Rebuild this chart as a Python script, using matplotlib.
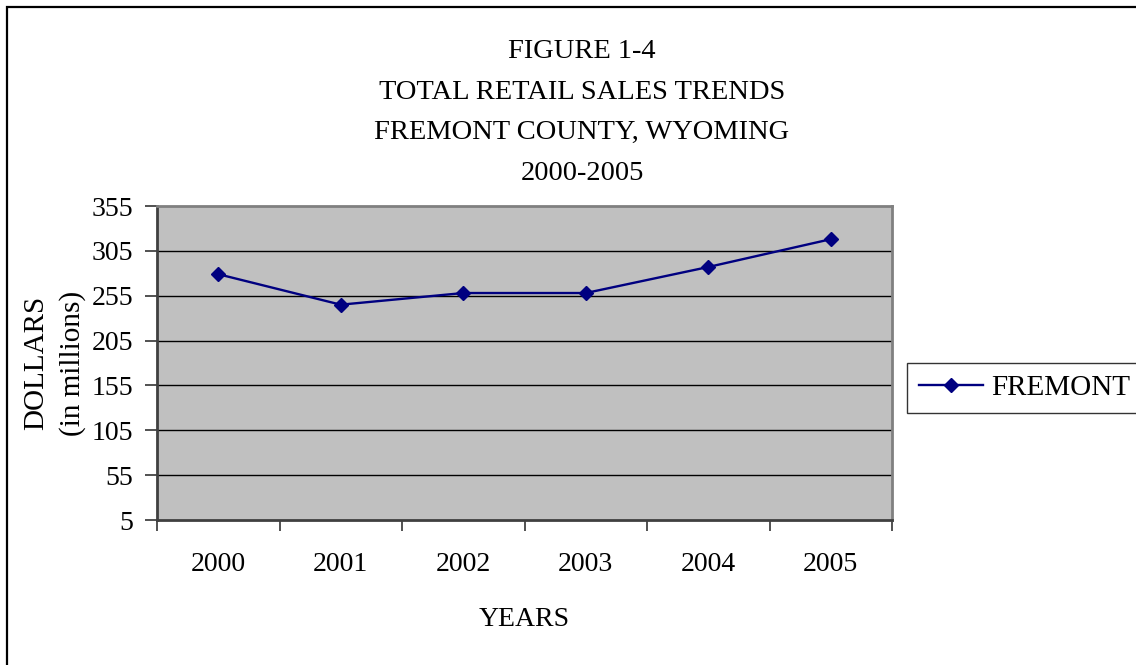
import matplotlib.pyplot as plt
from matplotlib.patches import Rectangle

# values
years = ['2000', '2001', '2002', '2003', '2004', '2005']
fremont = [279, 245, 258, 258, 287, 318]
yticks = [5, 55, 105, 155, 205, 255, 305, 355]
title_lines = ['FIGURE 1-4', 'TOTAL RETAIL SALES TRENDS',
               'FREMONT COUNTY, WYOMING', '2000-2005']

W, H = 1136, 665
plt.rcParams['font.family'] = ['Liberation Serif', 'DejaVu Serif']

fig = plt.figure(figsize=(W / 100, H / 100), dpi=100)
ax = fig.add_axes([157 / W, 1 - 520 / H, (892 - 157) / W, (520 - 206) / H])
ax.set_facecolor('#C0C0C0')

x = list(range(len(years)))
ax.plot(x, fremont, color='#000080', lw=1.7, marker='D', ms=7.6,
        label='FREMONT', zorder=3)

ax.set_xlim(-0.5, len(years) - 0.5)
ax.set_ylim(yticks[0], yticks[-1])
ax.set_yticks(yticks)
ax.set_yticklabels([str(v) for v in yticks], fontsize=20)
ax.set_xticks([i - 0.5 for i in range(len(years) + 1)])
ax.set_xticklabels([])
ax.set_xticks(x, minor=True)
ax.set_xticklabels(years, minor=True, fontsize=20)
ax.tick_params(axis='x', which='minor', length=0, pad=23)
ax.tick_params(axis='x', which='major', length=8, width=1.2, color='#333333', direction='out')
ax.tick_params(axis='y', length=9, width=1.2, color='#333333', direction='out', pad=8)

for v in yticks[1:-1]:
    ax.axhline(v, color='black', lw=1.0, zorder=1)

for s in ['top', 'right']:
    ax.spines[s].set_color('#808080')
    ax.spines[s].set_linewidth(2)
for s in ['left', 'bottom']:
    ax.spines[s].set_color('#404040')
    ax.spines[s].set_linewidth(2)

ax.set_xlabel('YEARS', fontsize=20, labelpad=22)
ax.set_ylabel('DOLLARS\n(in millions)', fontsize=21, labelpad=4, linespacing=1.5)

for i, t in enumerate(title_lines):
    fig.text(582 / W, 1 - (58 + i * 40.7) / H, t, ha='center', va='baseline', fontsize=20.5)

leg = fig.legend(loc='upper left', bbox_to_anchor=(907 / W, 1 - 363 / H),
                 fontsize=21, frameon=True, fancybox=False, handlelength=2.2,
                 borderpad=0.4, handletextpad=0.3, borderaxespad=0)
leg.get_frame().set_edgecolor('black')
leg.get_frame().set_linewidth(1.0)

fig.patches.append(Rectangle((7 / W, -0.1), 1.2, (H - 7) / H + 0.1,
                             transform=fig.transFigure, fill=False,
                             edgecolor='black', lw=1.6))

fig.savefig('out.png', dpi=100)
